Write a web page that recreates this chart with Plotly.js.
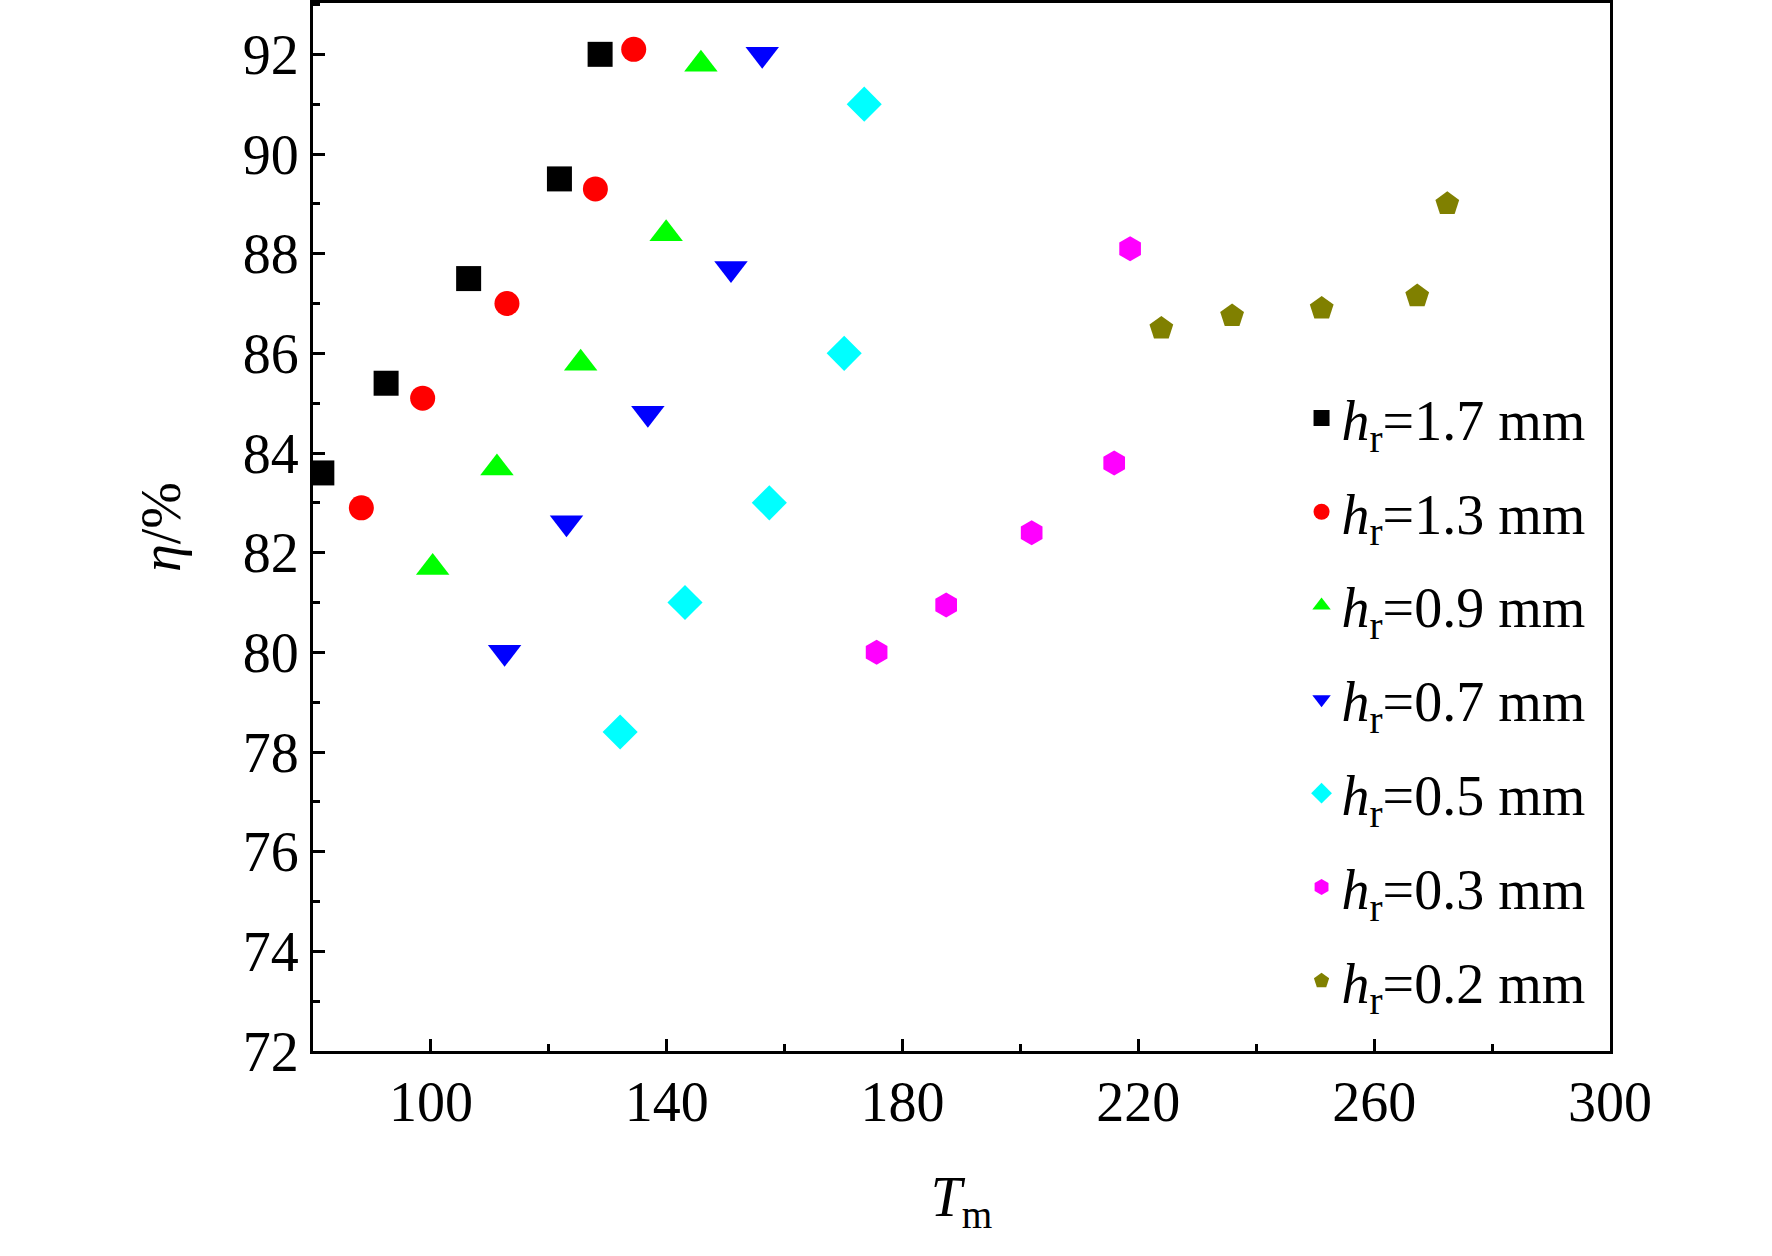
<!DOCTYPE html>
<html>
<head>
<meta charset="utf-8">
<script src="https://cdn.plot.ly/plotly-3.0.1.min.js"></script>
<style>body{margin:0;background:#fff}#chart{width:1772px;height:1256px}</style>
</head>
<body>
<div id="chart"></div>
<script>
var labels = ['1.7', '1.3', '0.9', '0.7', '0.5', '0.3', '0.2']
var symbols = ['square', 'circle', 'triangle-up', 'triangle-down', 'diamond', 'hexagon', 'pentagon']
var colors = ['#000000', '#ff0000', '#00ff00', '#0000ff', '#00ffff', '#ff00ff', '#808000']
var sizes = [25, 25, 29, 29, 27, 25, 25]

var tmValues = [
  [81.5, 92.4, 106.4, 121.8, 128.7],
  [88.2, 98.6, 112.9, 127.9, 134.4],
  [100.3, 111.2, 125.4, 139.9, 145.8],
  [112.5, 123.0, 136.8, 150.9, 156.2],
  [132.1, 143.1, 157.4, 170.1, 173.5],
  [175.6, 187.4, 201.9, 215.9, 218.6],
  [223.9, 235.9, 251.1, 267.3, 272.4]
]
var etaValues = [
  [83.6, 85.4, 87.5, 89.5, 92.0],
  [82.9, 85.1, 87.0, 89.3, 92.1],
  [81.7, 83.7, 85.8, 88.4, 91.8],
  [80.0, 82.6, 84.8, 87.7, 92.0],
  [78.4, 81.0, 83.0, 86.0, 91.0],
  [80.0, 80.95, 82.4, 83.8, 88.1],
  [86.5, 86.75, 86.9, 87.15, 89.0]
]

var data = []
for (var i = 0; i < labels.length; i++) {
  data.push({
    type: 'scatter',
    mode: 'markers',
    name: '<i>h</i><sub>r</sub>=' + labels[i] + ' mm',
    legendgroup: 'g' + i,
    x: tmValues[i],
    y: etaValues[i],
    marker: { symbol: symbols[i], color: colors[i], size: sizes[i], line: { width: 0 } }
  })
}

var axisStyle = {
  showline: true, mirror: true, linecolor: '#000', linewidth: 3,
  ticks: 'inside', ticklen: 12, tickwidth: 3, tickcolor: '#000',
  showgrid: false, zeroline: false,
  tickfont: { family: 'Liberation Serif, Times New Roman, serif', size: 56, color: '#000' }
}

var layout = {
  width: 1772, height: 1256,
  margin: { l: 313, r: 162, t: 3, b: 205 },
  paper_bgcolor: '#fff', plot_bgcolor: '#fff',
  font: { family: 'Liberation Serif, Times New Roman, serif', color: '#000' },
  xaxis: Object.assign({}, axisStyle, {
    range: [80, 300], tick0: 100, dtick: 40,
    minor: { dtick: 20, ticks: 'inside', ticklen: 7, tickwidth: 3, tickcolor: '#000' },
    title: { text: '<i>T</i><sub>m</sub>', font: { size: 56 }, standoff: 45 }
  }),
  yaxis: Object.assign({}, axisStyle, {
    range: [72, 93.03], tick0: 72, dtick: 2,
    minor: { dtick: 1, ticks: 'inside', ticklen: 7, tickwidth: 3, tickcolor: '#000' },
    title: { text: '<i>η</i>/%', font: { size: 56 }, standoff: 45 }
  }),
  legend: {
    x: 0.985, y: 0.645, xanchor: 'right', yanchor: 'top',
    bgcolor: 'rgba(0,0,0,0)', borderwidth: 0,
    font: { size: 56, color: '#000' },
    tracegroupgap: 18, itemwidth: 30
  },
  showlegend: true
}

Plotly.newPlot('chart', data, layout, { displayModeBar: false, staticPlot: true })
</script>
</body>
</html>
